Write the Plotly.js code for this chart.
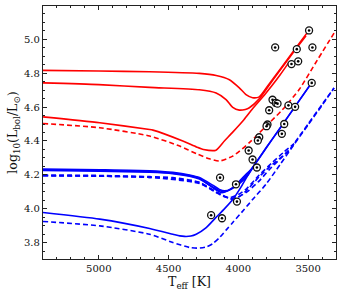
<!DOCTYPE html>
<html>
<head>
<meta charset="utf-8">
<script src="https://cdn.plot.ly/plotly-3.0.1.min.js"></script>
<style>html,body{margin:0;padding:0;background:#fff;}#chart{width:343px;height:294px;}</style>
</head>
<body>
<div id="chart"></div>
<script>
// Red solid tracks
var r1T = [5400, 5000, 4636, 4279, 4159, 4064, 3993, 3945, 3898, 3850, 3791, 3700, 3600, 3493];
var r1L = [4.816, 4.812, 4.808, 4.798, 4.786, 4.761, 4.713, 4.673, 4.655, 4.660, 4.722, 4.823, 4.935, 5.052];
var r2T = [5400, 5000, 4636, 4279, 4159, 4088, 4040, 3993, 3950, 3921, 3850, 3791, 3700, 3600, 3515];
var r2L = [4.742, 4.732, 4.716, 4.702, 4.683, 4.644, 4.598, 4.582, 4.586, 4.596, 4.648, 4.715, 4.818, 4.928, 5.02];
var r3T = [5400, 4993, 4636, 4612, 4398, 4300, 4250, 4160, 4100, 4040, 3960, 3898, 3814, 3760, 3700, 3640];
var r3L = [4.542, 4.507, 4.468, 4.464, 4.40, 4.365, 4.35, 4.346, 4.40, 4.452, 4.525, 4.59, 4.67, 4.725, 4.79, 4.86];
// Red dashed track
var rdT = [5400, 4993, 4636, 4421, 4300, 4207, 4136, 4040, 3921, 3802, 3683, 3564, 3450, 3314];
var rdL = [4.503, 4.478, 4.429, 4.37, 4.325, 4.295, 4.282, 4.311, 4.39, 4.487, 4.585, 4.703, 4.855, 5.035];
// Blue solid tracks
var b1aT = [5400, 4993, 4636, 4470, 4350, 4279, 4184, 4136, 4100, 4050, 3990, 3940, 3907, 3850, 3800, 3700, 3600, 3500, 3469];
var b1aL = [4.235, 4.231, 4.225, 4.215, 4.20, 4.185, 4.14, 4.115, 4.106, 4.118, 4.165, 4.208, 4.233, 4.30, 4.36, 4.477, 4.595, 4.713, 4.75];
var b1bT = [5400, 4993, 4636, 4470, 4350, 4279, 4184, 4136, 4100, 4040, 3970, 3907];
var b1bL = [4.226, 4.222, 4.216, 4.208, 4.193, 4.176, 4.13, 4.108, 4.100, 4.125, 4.172, 4.233];
var b1cT = [5400, 4993, 4636, 4470, 4350, 4279, 4184, 4120, 4060, 3990, 3930, 3880];
var b1cL = [4.230, 4.226, 4.220, 4.211, 4.196, 4.18, 4.125, 4.096, 4.112, 4.15, 4.20, 4.265];
var b2T = [5400, 4993, 4636, 4469, 4420, 4386, 4340, 4302, 4230, 4160, 4100, 4040, 3980, 3907, 3850, 3800, 3700, 3600, 3500, 3469];
var b2L = [3.979, 3.94, 3.885, 3.851, 3.841, 3.838, 3.840, 3.851, 3.89, 3.95, 4.0, 4.055, 4.13, 4.233, 4.30, 4.36, 4.477, 4.595, 4.713, 4.75];
// Blue dashed tracks
var bd1T = [5400, 4993, 4636, 4470, 4279, 4159, 4100, 4040, 3990, 3945, 3850, 3780, 3707, 3640, 3600, 3500, 3400, 3314];
var bd1L = [4.20, 4.197, 4.19, 4.184, 4.158, 4.10, 4.075, 4.057, 4.075, 4.105, 4.19, 4.245, 4.295, 4.34, 4.385, 4.50, 4.615, 4.712];
var bd2T = [5400, 4993, 4636, 4470, 4279, 4159, 4110, 4060, 4000, 3940, 3850, 3760, 3680, 3600];
var bd2L = [4.196, 4.193, 4.186, 4.180, 4.153, 4.096, 4.075, 4.066, 4.085, 4.12, 4.20, 4.27, 4.33, 4.385];
var bd3T = [5400, 4636, 4279, 4136, 4060, 4000, 3930, 3850, 3780, 3700, 3640];
var bd3L = [4.195, 4.186, 4.150, 4.09, 4.06, 4.07, 4.105, 4.165, 4.23, 4.295, 4.345];
var b2dT = [5400, 4993, 4636, 4469, 4350, 4291, 4231, 4184, 4136, 4088, 4040, 3960, 3898, 3802, 3700, 3600, 3500, 3400, 3314];
var b2dL = [3.926, 3.90, 3.851, 3.802, 3.773, 3.769, 3.776, 3.795, 3.83, 3.875, 3.92, 3.995, 4.055, 4.145, 4.262, 4.38, 4.495, 4.61, 4.712];
// Observed stars
var starT = [3493, 3736, 3581, 3469, 3619, 3571, 3474, 3755, 3731, 3719, 3779, 3641, 3593, 3791, 3798, 3671, 3688, 3850, 3860, 3926, 3898, 3867, 4131, 4017, 4010, 4195, 4117];
var starL = [5.051, 4.951, 4.941, 4.951, 4.853, 4.869, 4.742, 4.643, 4.624, 4.620, 4.581, 4.610, 4.601, 4.497, 4.487, 4.50, 4.442, 4.422, 4.403, 4.344, 4.291, 4.244, 4.184, 4.145, 4.043, 3.963, 3.945];
var xTicks = [5000, 4500, 4000, 3500];
var xTickText = ['5000', '4500', '4000', '3500'];

var RED = '#ff0000', BLUE = '#0000ff', LW = 1.6, DASH = '5px,3px';
function line(x, y, c, d) {
  return {x: x, y: y, type: 'scatter', mode: 'lines', line: {color: c, width: LW, dash: d || 'solid', shape: 'spline', smoothing: 0.6}, hoverinfo: 'skip'};
}
var traces = [
  line(rdT, rdL, RED, DASH),
  line(r3T, r3L, RED), line(r2T, r2L, RED), line(r1T, r1L, RED),
  line(b2dT, b2dL, BLUE, DASH), line(bd3T, bd3L, BLUE, DASH), line(bd2T, bd2L, BLUE, DASH), line(bd1T, bd1L, BLUE, DASH),
  line(b2T, b2L, BLUE), line(b1cT, b1cL, BLUE), line(b1bT, b1bL, BLUE), line(b1aT, b1aL, BLUE),
  {x: starT, y: starL, type: 'scatter', mode: 'markers', marker: {symbol: 'circle', size: 7, color: '#ffffff', line: {color: '#111', width: 1.3}}, hoverinfo: 'skip'},
  {x: starT, y: starL, type: 'scatter', mode: 'markers', marker: {symbol: 'circle', size: 2.6, color: '#000'}, hoverinfo: 'skip'}
];
var FONT = 'DejaVu Serif, Liberation Serif, serif';
var layout = {
  width: 343, height: 294,
  margin: {l: 43, r: 7, t: 6, b: 35},
  paper_bgcolor: '#fff', plot_bgcolor: '#fff',
  showlegend: false,
  font: {family: FONT, size: 10, color: '#111'},
  xaxis: {
    range: [5400, 3300], tickvals: xTicks, ticktext: xTickText,
    showgrid: false, zeroline: false, showline: true, linecolor: '#222', linewidth: 1.2, mirror: 'allticks',
    ticks: 'inside', ticklen: 4, tickcolor: '#222', tickwidth: 1,
    minor: {dtick: 100, ticks: 'inside', ticklen: 2, tickcolor: '#222', tickwidth: 1, showgrid: false},
    tickfont: {family: FONT, size: 10, color: '#111'},
    automargin: false,
    title: {text: 'T<sub>eff</sub> [K]', font: {family: FONT, size: 12.5, color: '#111'}, standoff: 1}
  },
  yaxis: {
    range: [3.705, 5.195], dtick: 0.2, tick0: 3.8, tickformat: '.1f',
    showgrid: false, zeroline: false, showline: true, linecolor: '#222', linewidth: 1.2, mirror: 'allticks',
    ticks: 'inside', ticklen: 4, tickcolor: '#222', tickwidth: 1,
    minor: {dtick: 0.05, ticks: 'inside', ticklen: 2, tickcolor: '#222', tickwidth: 1, showgrid: false},
    tickfont: {family: FONT, size: 10, color: '#111'},
    automargin: false,
    title: {text: 'log<sub>10</sub>(L<sub>bol</sub>/L<sub>⊙</sub>)', font: {family: FONT, size: 12.5, color: '#111'}, standoff: 3}
  }
};
Plotly.newPlot('chart', traces, layout, {staticPlot: true, displayModeBar: false});
</script>
</body>
</html>
